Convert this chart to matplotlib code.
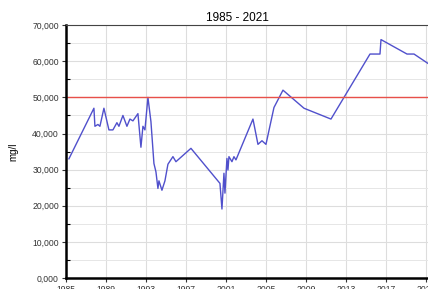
import matplotlib
matplotlib.use("Agg")
import matplotlib.pyplot as plt
from matplotlib.ticker import MultipleLocator, FuncFormatter

years = [
    1985.3, 1987.8, 1987.9, 1988.2, 1988.4, 1988.8, 1989.3, 1989.7, 1990.1,
    1990.3, 1990.7, 1991.1, 1991.4, 1991.7, 1992.2, 1992.5, 1992.7, 1992.9,
    1993.2, 1993.5, 1993.8, 1994.0, 1994.2, 1994.3, 1994.6, 1994.9, 1995.2,
    1995.7, 1996.0, 1997.5, 2000.4, 2000.6, 2000.8, 2000.9, 2001.1, 2001.2,
    2001.3, 2001.6, 2001.8, 2002.0, 2003.7, 2004.2, 2004.6, 2005.0, 2005.8,
    2006.7, 2008.8, 2011.5, 2015.4, 2016.4, 2016.5, 2019.1, 2019.8, 2021.2,
]
values = [
    33000, 47000, 42000, 42500, 42000, 47000, 41000, 41000, 43000,
    42000, 45000, 42000, 44000, 43500, 45500, 36200, 42000, 41000,
    50000, 43300, 31700, 29400, 24800, 26900, 24300, 26900, 31500,
    33600, 32200, 35900, 26200, 19100, 29000, 23500, 33100, 29900,
    33600, 32200, 33600, 32700, 44000, 37000, 38000, 37000, 47200,
    52000, 47000, 44000, 62000, 62000, 66000, 62000, 62000, 59400,
]
limit_value = 50000
title = "1985 - 2021"
x_ticks = [1985, 1989, 1993, 1997, 2001, 2005, 2009, 2013, 2017, 2021]

plt.rcParams["font.family"] = ["Liberation Sans", "DejaVu Sans"]

fig = plt.figure(figsize=(4.28, 2.89), dpi=100)
ax = fig.add_axes([0.154, 0.038, 0.846, 0.875])

ax.plot(years, values, color="#5050cc", linewidth=1.0)
ax.axhline(limit_value, color="#e8504a", linewidth=1.0)

ax.set_xlim(1985, 2021.2)
ax.set_ylim(0, 70000)
ax.set_xticks(x_ticks)
ax.yaxis.set_major_locator(MultipleLocator(10000))
ax.yaxis.set_minor_locator(MultipleLocator(5000))
ax.yaxis.set_major_formatter(FuncFormatter(lambda v, p: f"{int(v / 1000)},000"))

ax.grid(True, which="major", color="#dddddd", linewidth=0.8)
ax.grid(True, which="minor", axis="y", color="#e6e6e6", linewidth=0.7)
ax.set_axisbelow(True)

ax.tick_params(axis="both", which="major", labelsize=6.2, colors="#333333",
               length=3, width=0.8, pad=2)
ax.tick_params(axis="y", which="minor", direction="in", length=3, width=0.8)

for side in ["left", "bottom"]:
    ax.spines[side].set_linewidth(1.8)
    ax.spines[side].set_color("black")
ax.spines["top"].set_linewidth(0.8)
ax.spines["top"].set_color("#444444")
ax.spines["right"].set_visible(False)

ax.set_title(title, fontsize=8.5, pad=3, x=0.475)
ax.set_ylabel("mg/l", fontsize=7, labelpad=10)

fig.savefig("out.png", dpi=100)
